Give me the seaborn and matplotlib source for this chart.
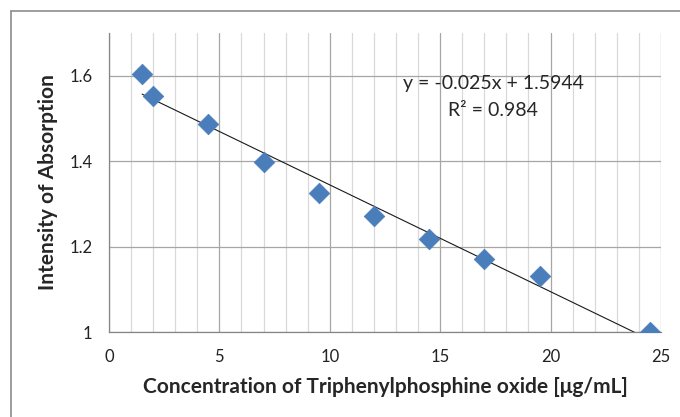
import numpy as np
import pandas as pd
import matplotlib
matplotlib.use("Agg")
import matplotlib.pyplot as plt
from matplotlib.lines import Line2D
from matplotlib.ticker import MultipleLocator
import seaborn as sns

# Data
conc = [1.5, 2, 4.5, 7, 9.5, 12, 14.5, 17, 19.5, 24.5]
absorb = [1.605, 1.553, 1.486, 1.397, 1.325, 1.271, 1.217, 1.170, 1.131, 1.0]
slope = -0.025
intercept = 1.5944
r2 = 0.984

df = pd.DataFrame({"conc": conc, "absorb": absorb})

sns.set_style("white")
plt.rcParams["font.family"] = ["Lato", "DejaVu Sans"]

fig = plt.figure(figsize=(6.8, 4.17), dpi=100)
ax = fig.add_axes([0.1603, 0.2038, 0.8117, 0.7171])

# gridlines
ax.xaxis.set_major_locator(MultipleLocator(5))
ax.xaxis.set_minor_locator(MultipleLocator(1))
ax.yaxis.set_major_locator(MultipleLocator(0.2))
ax.grid(which="minor", axis="x", color="#d9d9d9", lw=0.9)
ax.grid(which="major", axis="x", color="#a6a6a6", lw=0.9)
ax.grid(which="major", axis="y", color="#a6a6a6", lw=0.9)
ax.set_axisbelow(True)

# trendline
xs = np.array([min(conc), max(conc)])
ax.plot(xs, slope * xs + intercept, color="#1a1a1a", lw=0.8, zorder=2)

sns.scatterplot(data=df, x="conc", y="absorb", marker="D", s=110,
                color="#4a7ebb", edgecolor="#4a7ebb", linewidth=0.5, ax=ax, zorder=3)

ax.set_xlim(0, 25)
ax.set_ylim(1, 1.7)
ax.set_yticks([1, 1.2, 1.4, 1.6])
ax.set_yticklabels(["1", "1.2", "1.4", "1.6"])

for s in ["top", "right"]:
    ax.spines[s].set_visible(False)
for s in ["left", "bottom"]:
    ax.spines[s].set_color("#868686")
    ax.spines[s].set_linewidth(0.9)
ax.tick_params(which="major", direction="out", length=5, color="#868686",
               labelsize=12, labelcolor="#222222", pad=7)
ax.tick_params(which="minor", length=0)

ax.set_xlabel("Concentration of Triphenylphosphine oxide [μg/mL]",
              fontsize=15, fontweight="bold", labelpad=9)
ax.set_ylabel("Intensity of Absorption", fontsize=15, fontweight="bold", labelpad=8)

ax.text(17.4, 1.581, "y = -0.025x + 1.5944", ha="center", va="center", fontsize=14)
ax.text(17.4, 1.518, f"R² = {r2}", ha="center", va="center", fontsize=14)

# chart frame (top and left edges visible)
fig.add_artist(Line2D([11 / 680, 1], [1 - 10.5 / 417] * 2, color="#8c8c8c", lw=1.2))
fig.add_artist(Line2D([11 / 680] * 2, [0, 1 - 10.5 / 417], color="#8c8c8c", lw=1.2))

fig.savefig("out.png", dpi=100)
